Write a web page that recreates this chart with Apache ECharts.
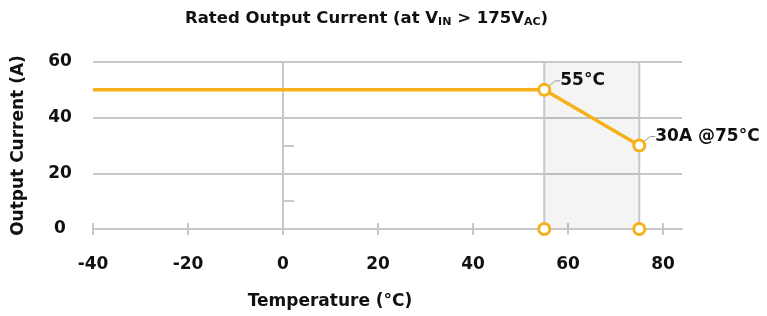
<!DOCTYPE html>
<html lang="en">
<head>
    <meta charset="UTF-8">
    <title>Rated Output Current</title>
    <script src="https://cdn.jsdelivr.net/npm/echarts@6/dist/echarts.min.js"></script>
    <style>
        html, body { margin: 0; padding: 0; background: #fff; }
        #main { width: 767px; height: 316px; }
    </style>
</head>
<body>
<div id="main"></div>
<script type="text/javascript">
    // derating curve (temperature in °C, current in A)
    var temps = [-40, 55, 75];
    var currents = [50, 50, 30];
    var pointLabels = ['', '55°C', '30A @75°C'];
    var xTicks = [-40, -20, 0, 20, 40, 60, 80];
    var yTicks = [0, 20, 40, 60];
    var baseMarks = [55, 75];
    var derateZone = [55, 75];

    var FONT = 'DejaVu Sans';
    var ORANGE = '#f5b01a';
    var GRID = '#c8c8c8';

    var chartDom = document.getElementById('main');
    var myChart = echarts.init(chartDom);
    var option;

    var lineData = temps.map(function (t, i) {
        var item = { value: [t, currents[i]] };
        if (!pointLabels[i]) {
            item.symbol = 'none';
        } else {
            item.label = { show: true, formatter: pointLabels[i] };
        }
        return item;
    });

    option = {
        animation: false,
        textStyle: { fontFamily: FONT },
        title: {
            text: 'Rated Output Current (at V{s|IN} > 175V{s|AC})',
            left: 180,
            top: 5,
            textStyle: {
                fontFamily: FONT,
                fontSize: 16.5,
                fontWeight: 'bold',
                color: '#111',
                rich: {
                    s: { fontFamily: FONT, fontSize: 11, fontWeight: 'bold', color: '#111', verticalAlign: 'bottom', padding: [7, 0, 0, 0] }
                }
            }
        },
        grid: { left: 93, right: 85, top: 62, bottom: 87 },
        xAxis: [{
            type: 'value',
            min: -40,
            max: 84,
            interval: 20,
            name: 'Temperature (°C)',
            nameLocation: 'middle',
            nameGap: 64,
            nameTextStyle: { fontSize: 17, fontWeight: 'bold', color: '#111', padding: [0, 115, 0, 0] },
            axisLine: { lineStyle: { color: GRID, width: 2 } },
            axisTick: { customValues: xTicks, length: 6, lineStyle: { color: GRID, width: 2 } },
            axisLabel: { customValues: xTicks, margin: 27, fontSize: 17, fontWeight: 'bold', color: '#111' },
            splitLine: { show: false }
        }, {
            type: 'value',
            position: 'bottom',
            min: -40,
            max: 84,
            interval: 20,
            axisLine: { show: false },
            axisTick: { customValues: xTicks, inside: true, length: 6, lineStyle: { color: GRID, width: 2 } },
            axisLabel: { show: false },
            splitLine: { show: false }
        }],
        yAxis: [{
            type: 'value',
            position: 'left',
            min: 0,
            max: 60,
            interval: 20,
            name: 'Output Current (A)',
            nameLocation: 'middle',
            nameGap: 66,
            nameTextStyle: { fontSize: 17, fontWeight: 'bold', color: '#111' },
            axisLine: { show: false },
            axisTick: { show: false },
            axisLabel: { customValues: yTicks, margin: 33, align: 'center', fontSize: 17, fontWeight: 'bold', color: '#111' },
            splitLine: { lineStyle: { color: GRID, width: 2 } }
        }, {
            type: 'value',
            position: 'left',
            min: 0,
            max: 60,
            interval: 20,
            axisLine: { show: true, onZero: true, onZeroAxisIndex: 0, lineStyle: { color: GRID, width: 2 } },
            axisTick: { show: false, inside: true },
            minorTick: { show: true, splitNumber: 2, length: 11, lineStyle: { color: GRID, width: 2 } },
            axisLabel: { show: false },
            splitLine: { show: false }
        }],
        series: [
            {
                type: 'line',
                data: lineData,
                symbol: 'circle',
                symbolSize: 11,
                z: 5,
                lineStyle: { color: ORANGE, width: 3.5 },
                itemStyle: { color: '#fff', borderColor: ORANGE, borderWidth: 3 },
                label: {
                    position: 'right',
                    distance: 3,
                    fontSize: 17,
                    fontWeight: 'bold',
                    color: '#111'
                },
                labelLayout: { dx: 6, dy: -9 },
                labelLine: { show: true, length2: 5, lineStyle: { color: '#999', width: 1 } },
                markArea: {
                    silent: true,
                    itemStyle: { color: 'rgba(0,0,0,0.045)', borderColor: GRID, borderWidth: 2 },
                    data: [[{ xAxis: derateZone[0], yAxis: 0 }, { xAxis: derateZone[1], yAxis: 60 }]]
                }
            },
            {
                type: 'scatter',
                data: baseMarks.map(function (t) { return [t, 0]; }),
                symbol: 'circle',
                symbolSize: 11,
                z: 5,
                itemStyle: { color: '#fff', borderColor: ORANGE, borderWidth: 3, opacity: 1 }
            }
        ]
    };

    option && myChart.setOption(option);
</script>
</body>
</html>
